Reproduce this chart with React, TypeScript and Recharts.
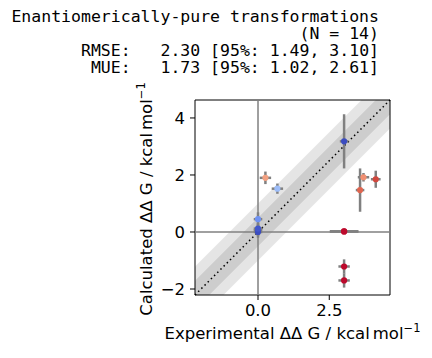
import {
  ComposedChart,
  Area,
  Scatter,
  XAxis,
  YAxis,
  ZAxis,
  ErrorBar,
  ReferenceLine,
  ReferenceArea,
  Cell,
} from 'recharts';

// experimental vs calculated ΔΔG (kcal/mol), one entry per transformation
const expDDG = [3.02, 0.26, 0.68, 0.0, 0.0, 0.0, 0.0, 3.7, 4.13, 3.58, 3.02, 3.02, 3.02, 3.02];
const calcDDG = [3.18, 1.9, 1.52, 0.45, 0.06, 0.0, 0.12, 1.92, 1.85, 1.47, 0.02, 0.02, -1.21, -1.7];
const expErr = [0.15, 0.2, 0.2, 0.15, 0.15, 0.15, 0.15, 0.2, 0.17, 0.15, 0.5, 0.5, 0.2, 0.2];
const calcErr = [0.95, 0.22, 0.18, 0.24, 0.2, 0.2, 0.2, 0.15, 0.3, 0.76, 0.05, 0.05, 0.25, 0.25];
const pointColors = [
  '#3b4cc0', '#f2a182', '#9dbdf9', '#6f92f3', '#3f53c6', '#3b4cc0', '#4358cb',
  '#f29072', '#d0473d', '#e0654f', '#bd0a2c', '#bd0a2c', '#bd0a2c', '#bd0a2c',
];

const xTicks = [0, 2.5];
const yTicks = [-2, 0, 2, 4];
const axisRange: [number, number] = [-2.21, 4.63];

const titleLines = [
  'Enantiomerically-pure transformations',
  '(N = 14)',
  'RMSE:   2.30 [95%: 1.49, 3.10]',
  'MUE:   1.73 [95%: 1.02, 2.61]',
];

const points = expDDG.map((x, i) => ({
  x,
  y: calcDDG[i],
  ex: expErr[i],
  ey: calcErr[i],
}));

// shaded agreement bands (±1 and ±0.5 kcal/mol around y = x)
const bandData = axisRange.map((x) => ({
  x,
  band1: [x - 1, x + 1],
  band05: [x - 0.5, x + 0.5],
}));

const minus = (v: number) => (v < 0 ? `\u2212${Math.abs(v)}` : `${v}`);
const font = 'DejaVu Sans, sans-serif';

export default function App() {
  return (
    <div style={{ position: 'absolute', left: 0, top: 0, width: 432, height: 358, background: '#fff' }}>
      <ComposedChart
        width={432}
        height={358}
        data={bandData}
        margin={{ top: 100, right: 42, bottom: 33, left: 135 }}
      >
        <XAxis
          type="number"
          dataKey="x"
          domain={axisRange}
          allowDataOverflow
          ticks={xTicks}
          tickFormatter={(v) => v.toFixed(1)}
          axisLine={false}
          tickLine={{ stroke: '#000' }}
          tickSize={5}
          tickMargin={4}
          height={30}
          tick={{ fill: '#000', fontSize: 16.5, fontFamily: font }}
        />
        <YAxis
          type="number"
          domain={axisRange}
          allowDataOverflow
          ticks={yTicks}
          tickFormatter={minus}
          axisLine={false}
          tickLine={{ stroke: '#000' }}
          tickSize={5}
          tickMargin={5}
          width={60}
          tick={{ fill: '#000', fontSize: 16.5, fontFamily: font }}
        />
        <ZAxis range={[30, 30]} />
        <Area
          dataKey="band1"
          type="linear"
          fill="#000"
          fillOpacity={0.1}
          stroke="none"
          isAnimationActive={false}
          activeDot={false}
        />
        <Area
          dataKey="band05"
          type="linear"
          fill="#000"
          fillOpacity={0.1}
          stroke="none"
          isAnimationActive={false}
          activeDot={false}
        />
        <ReferenceLine
          segment={[
            { x: axisRange[0], y: axisRange[0] },
            { x: axisRange[1], y: axisRange[1] },
          ]}
          stroke="#000"
          strokeWidth={1.5}
          strokeDasharray="1.5 3"
        />
        <ReferenceLine x={0} stroke="#808080" strokeWidth={1.5} />
        <ReferenceLine y={0} stroke="#808080" strokeWidth={1.5} />
        <Scatter data={points} dataKey="y" isAnimationActive={false}>
          <ErrorBar dataKey="ey" direction="y" width={0} stroke="#808080" strokeWidth={2.5} />
          <ErrorBar dataKey="ex" direction="x" width={0} stroke="#808080" strokeWidth={2.5} />
          {points.map((_, i) => (
            <Cell key={i} fill={pointColors[i]} />
          ))}
        </Scatter>
        <ReferenceArea
          x1={axisRange[0]}
          x2={axisRange[1]}
          y1={axisRange[0]}
          y2={axisRange[1]}
          fill="none"
          stroke="#000"
          strokeWidth={1}
        />
      </ComposedChart>

      <svg
        width={432}
        height={358}
        style={{ position: 'absolute', left: 0, top: 0, pointerEvents: 'none' }}
      >
        {titleLines.map((line, i) => (
          <text
            key={i}
            x={379}
            y={21.7 + i * 17.2}
            textAnchor="end"
            fontFamily="DejaVu Sans Mono, monospace"
            fontSize={16.5}
            style={{ whiteSpace: 'pre' }}
          >
            {line}
          </text>
        ))}
        <text x={292.5} y={339} textAnchor="middle" fontFamily={font} fontSize={16.5}>
          Experimental ΔΔ G / kcal<tspan dx={3}>mol</tspan>
          <tspan dy={-7} fontSize={11.5}>−1</tspan>
        </text>
        <text
          transform="translate(152, 199) rotate(-90)"
          textAnchor="middle"
          fontFamily={font}
          fontSize={16.5}
        >
          Calculated ΔΔ G / kcal<tspan dx={3}>mol</tspan>
          <tspan dy={-7} fontSize={11.5}>−1</tspan>
        </text>
      </svg>
    </div>
  );
}
